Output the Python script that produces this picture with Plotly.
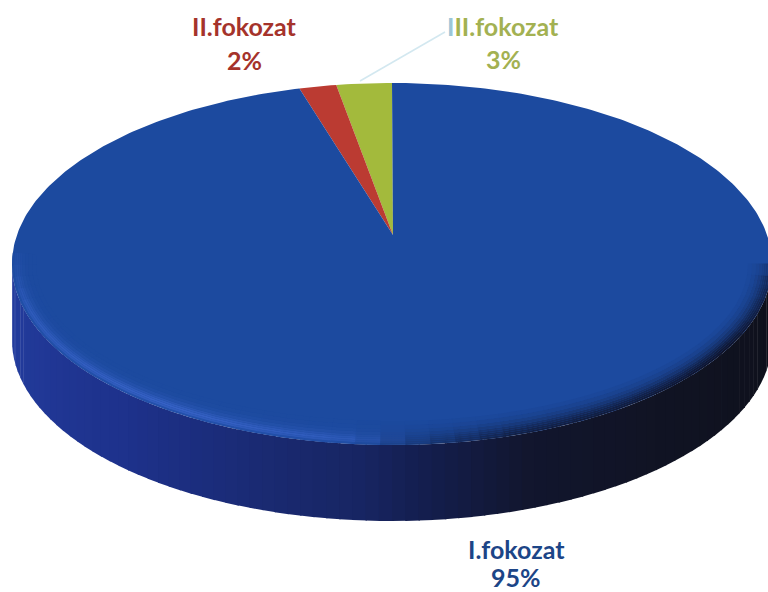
import numpy as np
import plotly.graph_objects as go

labels = ["I.fokozat", "II.fokozat", "III.fokozat"]
values = [95, 2, 3]
colors = ["#1c4a9f", "#bb3b32", "#a3ba3c"]
text_colors = ["#1c4587", "#a5332b", "#a3b152"]

W, H = 768, 592
CX, CY, RX, RY = 392, 264, 380, 181   # top ellipse in pixels
DEPTH = 76 / RY
APEX = (1 / RX, 29 / RY)              # pie centre seen in perspective
FORESHORTEN = 0.22
TOP_RGB = (28, 74, 159)


def rim(deg):
    """Rim point for a share angle measured counter-clockwise from 12 o'clock."""
    t = np.radians(deg)
    t = t - FORESHORTEN * np.sin(t)
    return -np.sin(t), np.cos(t)


def lerp_rgb(stops, f):
    xs = [s[0] for s in stops]
    return tuple(np.interp(f, xs, [s[1][i] for s in stops]) for i in range(3))


def css(c):
    return "rgb(%d,%d,%d)" % tuple(c)


def mix(a, b, w):
    return tuple(a[i] + (b[i] - a[i]) * w for i in range(3))


fig = go.Figure()

# side wall: strips along the front of the disc, shaded from left to right
wall_stops = [
    (0.00, (36, 62, 160)), (0.25, (30, 50, 140)), (0.47, (24, 38, 100)),
    (0.53, (20, 30, 78)), (0.62, (18, 22, 46)), (0.75, (17, 20, 36)), (1.00, (14, 16, 26)),
]
N = 90
edges = np.linspace(np.pi, 2 * np.pi, N + 1)
for i in range(N):
    a = np.linspace(edges[i], edges[i + 1] + 0.004, 5)
    ux, uy = np.cos(a), np.sin(a)
    xs = np.r_[ux, ux[::-1]]
    ys = np.r_[uy, uy[::-1] - DEPTH]
    fig.add_trace(go.Scatter(x=xs, y=ys, mode="lines", fill="toself", line=dict(width=0),
                             fillcolor=css(lerp_rgb(wall_stops, i / (N - 1))), hoverinfo="skip"))

# slices of the top face, drawn from the values
order = [2, 1, 0]
cum = 0
for idx in order:
    start = cum / sum(values) * 360
    cum += values[idx]
    end = cum / sum(values) * 360
    d = np.linspace(start, end, max(3, int(values[idx] * 4)))
    rx, ry = rim(d)
    fig.add_trace(go.Scatter(x=np.r_[APEX[0], rx, APEX[0]], y=np.r_[APEX[1], ry, APEX[1]],
                             mode="lines", fill="toself", line=dict(width=0),
                             fillcolor=colors[idx], hoverinfo="skip", name=labels[idx]))

# soft rim: opaque bands, light on the lit side, dark on the shaded side
LIGHT = (62, 104, 208)
DARK = (16, 20, 42)
insets = [0, 2, 4, 6, 8, 10, 13, 16, 20, 24]
band_weight_light = [0.25, 0.65, 0.8, 0.65, 0.45, 0.25, 0.12, 0.04, 0.0]
band_weight_dark = [1.0, 0.92, 0.82, 0.70, 0.56, 0.40, 0.26, 0.14, 0.05]
M = 48
edges = np.linspace(np.pi * 0.98, 2 * np.pi, M + 1)
for i in range(M):
    mid = (edges[i] + edges[i + 1]) / 2
    f = (mid - np.pi) / np.pi                      # 0 left, 1 right
    lit = np.interp(f, [0, 0.08, 0.3, 0.45, 0.53], [0.2, 0.7, 1, 0.7, 0])
    shade = np.interp(f, [0.47, 0.6, 0.85, 0.97, 1.0], [0, 0.75, 1, 0.6, 0.25])
    a = np.linspace(edges[i], edges[i + 1] + 0.003, 4)
    for k in range(len(insets) - 1):
        r1x, r1y = 1 - insets[k] / RX, 1 - insets[k] / RY
        r2x, r2y = 1 - insets[k + 1] / RX, 1 - insets[k + 1] / RY
        c = mix(TOP_RGB, LIGHT, lit * band_weight_light[k])
        c = mix(c, DARK, shade * band_weight_dark[k])
        xs = np.r_[np.cos(a) * r1x, np.cos(a[::-1]) * r2x]
        ys = np.r_[np.sin(a) * r1y, np.sin(a[::-1]) * r2y]
        fig.add_trace(go.Scatter(x=xs, y=ys, mode="lines", fill="toself", line=dict(width=0),
                                 fillcolor=css(c), hoverinfo="skip"))


def px(x):
    return x / W


def py(y):
    return 1 - y / H


label_pos = {0: (516, 549, 577), 1: (244, 26, 60), 2: (503, 26, 59)}
annotations = []
for i, name in enumerate(labels):
    x, y1, y2 = label_pos[i]
    text = name
    if i == 2:
        text = '<span style="color:#9cc6d8">I</span>' + name[1:]
    for y, t in ((y1, text), (y2, "%d%%" % values[i])):
        annotations.append(dict(x=px(x), y=py(y), xref="paper", yref="paper", text="<b>%s</b>" % t,
                                xanchor="center", yanchor="middle", showarrow=False,
                                font=dict(family="Lato", size=25, color=text_colors[i])))

fig.update_layout(
    width=W, height=H, margin=dict(l=0, r=0, t=0, b=0), showlegend=False,
    paper_bgcolor="white", plot_bgcolor="white", hovermode=False,
    xaxis=dict(visible=False, range=[-CX / RX, (W - CX) / RX], fixedrange=True),
    yaxis=dict(visible=False, range=[(CY - H) / RY, CY / RY], fixedrange=True),
    annotations=annotations,
    shapes=[dict(type="line", xref="paper", yref="paper", x0=px(360), y0=py(81), x1=px(445), y1=py(32),
                 line=dict(color="#d3e8f0", width=1.5))],
)

fig.write_html("out.html", config={"displayModeBar": False},
               post_script="document.body.style.margin='0';document.body.style.overflow='hidden';")
